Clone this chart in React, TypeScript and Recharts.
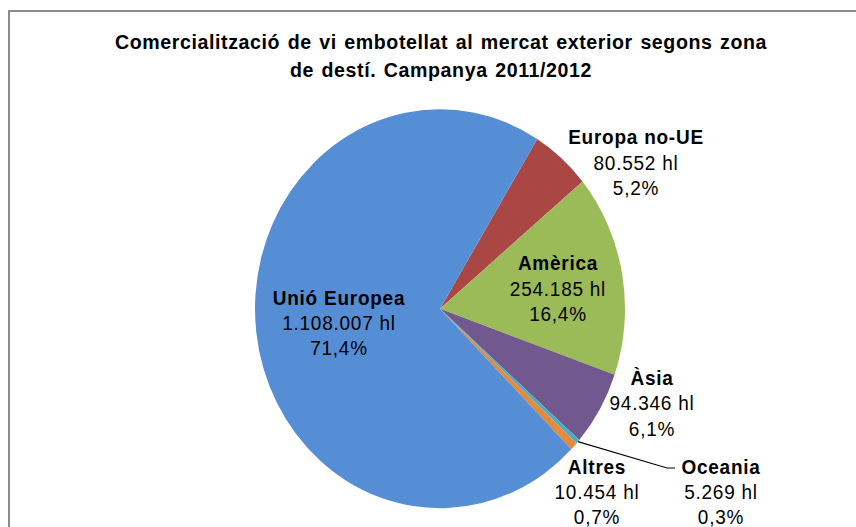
import React from 'react';
import { PieChart, Pie, Cell } from 'recharts';

// clockwise from the top-right, as in the original sheet
const regions = ['Europa no-UE', 'Amèrica', 'Àsia', 'Oceania', 'Altres', 'Unió Europea'];
const volumesHl = [80552, 254185, 94346, 5269, 10454, 1108007];
const titleLines = [
  'Comercialització de vi embotellat al mercat exterior segons zona',
  'de destí. Campanya 2011/2012',
];

const COLORS = ['#AA4643', '#9BBB59', '#71588F', '#4BACC6', '#E48A3C', '#558ED5'];

// label anchor (first line baseline, centred) relative to the pie centre
const LABEL_POS: [number, number][] = [
  [196, -152.6],
  [118, -35.7],
  [212, 70.9],
  [281, 153.2],
  [157, 153.2],
  [-101, -3.9],
];

const data = regions.map((name, i) => ({ name, value: volumesHl[i] }));

const FONT = 'Arial, "Liberation Sans", sans-serif';
const STRETCH = 1.078; // the original export is a bit taller than wide
const W = 856;
const H = 489;
const RAD = Math.PI / 180;

const fmtHl = (v: number) => String(v).replace(/\B(?=(\d{3})+(?!\d))/g, '.') + ' hl';
const fmtPct = (p: number) => (p * 100).toFixed(1).replace('.', ',') + '%';

const renderLabel = (props: any) => {
  const { cx, cy, midAngle, outerRadius, percent, index, name, value } = props;
  const [dx, dy] = LABEL_POS[index];
  const x = cx + dx;
  const y = cy + dy;
  const step = 23.45;
  let leader = null;
  if (name === 'Oceania') {
    const ex = cx + outerRadius * Math.cos(-midAngle * RAD);
    const ey = cy + outerRadius * Math.sin(-midAngle * RAD);
    leader = (
      <polyline
        points={`${ex},${ey} ${x - 54},${y - 5.5} ${x - 46},${y - 5.5}`}
        fill="none"
        stroke="#000"
        strokeWidth={1}
      />
    );
  }
  return (
    <g key={`lbl-${index}`}>
      {leader}
      <text x={x} y={y} textAnchor="middle" fontFamily={FONT} fontSize={19} fontWeight="bold" letterSpacing={0.75} fill="#000">
        {name}
      </text>
      <text x={x} y={y + step} textAnchor="middle" fontFamily={FONT} fontSize={19} letterSpacing={0.75} fill="#000">
        {fmtHl(value)}
      </text>
      <text x={x} y={y + step * 2} textAnchor="middle" fontFamily={FONT} fontSize={19} letterSpacing={0.75} fill="#000">
        {fmtPct(percent)}
      </text>
    </g>
  );
};

const App: React.FC = () => {
  return (
    <div style={{ position: 'absolute', left: 0, top: 0, width: 856, height: 527, overflow: 'hidden', background: '#fff' }}>
      <div
        style={{
          position: 'absolute',
          left: 8,
          top: 10,
          width: 900,
          height: 600,
          borderLeft: '2px solid #8c8c8c',
          borderTop: '2px solid #8c8c8c',
        }}
      />
      <div style={{ position: 'absolute', left: 0, top: 0, transform: `scaleY(${STRETCH})`, transformOrigin: '0 0' }}>
        <PieChart width={W} height={H} margin={{ top: 0, right: 0, bottom: 0, left: 0 }}>
          <Pie
            data={data}
            dataKey="value"
            nameKey="name"
            cx={440}
            cy={286.4}
            outerRadius={185}
            startAngle={58.3}
            endAngle={-301.7}
            stroke="none"
            label={renderLabel}
            labelLine={false}
            isAnimationActive={false}
          >
            {data.map((entry, index) => (
              <Cell key={`cell-${index}`} fill={COLORS[index % COLORS.length]} />
            ))}
          </Pie>
        </PieChart>
        <svg width={W} height={100} style={{ position: 'absolute', left: 0, top: 0 }}>
          {titleLines.map((t, i) => (
            <text
              key={i}
              x={441}
              y={45.8 + i * 25.9}
              textAnchor="middle"
              fontFamily={FONT}
              fontSize={19.6}
              fontWeight="bold"
              letterSpacing={0.6}
              wordSpacing={1.5}
              fill="#000"
            >
              {t}
            </text>
          ))}
        </svg>
      </div>
    </div>
  );
};

export default App;
